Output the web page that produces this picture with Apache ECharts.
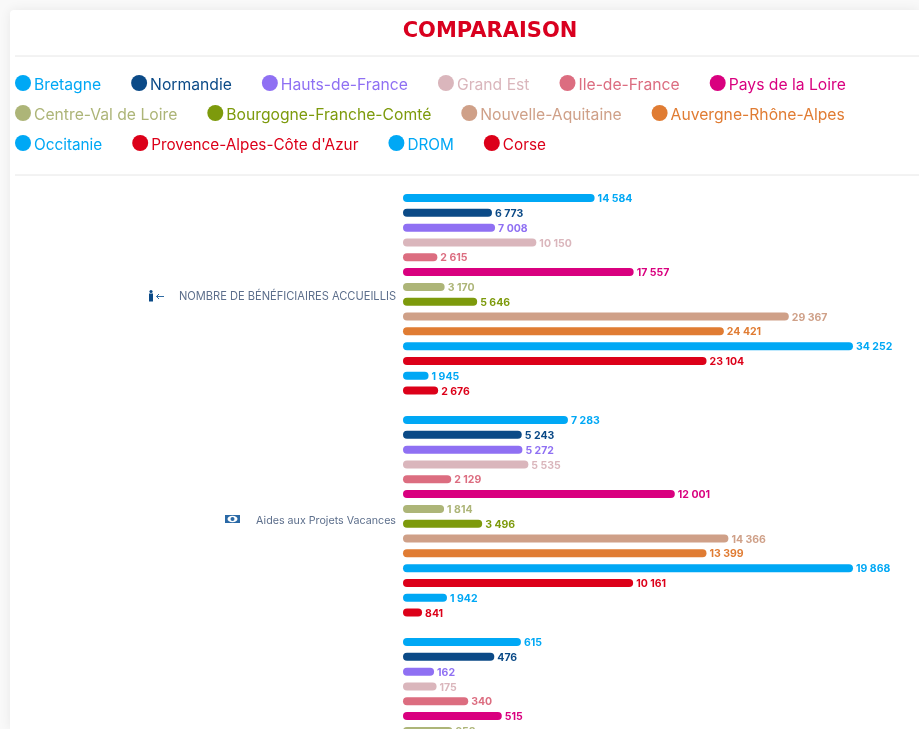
<!DOCTYPE html>
<html>
<head>
<meta charset="utf-8">
<script src="https://cdn.jsdelivr.net/npm/echarts@6/dist/echarts.min.js"></script>
<style>
html, body { margin: 0; padding: 0; background: #f9f9f9; overflow: hidden; }
.card { position: absolute; left: 10px; top: 10px; width: 909px; height: 719px; background: #fff; border-radius: 4px 0 0 0; box-shadow: 0 0 12px rgba(0,0,0,0.07); }
#chart { position: absolute; left: 0; top: 0; width: 919px; height: 860px; }
</style>
</head>
<body>
<div class="card"></div>
<div id="chart"></div>
<script>
const regions = ["Bretagne", "Normandie", "Hauts-de-France", "Grand Est", "Ile-de-France", "Pays de la Loire",
  "Centre-Val de Loire", "Bourgogne-Franche-Comté", "Nouvelle-Aquitaine", "Auvergne-Rhône-Alpes",
  "Occitanie", "Provence-Alpes-Côte d'Azur", "DROM", "Corse"];
const colors = ["#00a8f5", "#0b4a87", "#8f70f3", "#dab6bc", "#dc6d80", "#d9007f",
  "#adb578", "#7d9a0c", "#cfa088", "#e07c33",
  "#00a8f5", "#dc0019", "#00a8f5", "#dc0019"];
const legendRows = [regions.slice(0, 6), regions.slice(6, 10), regions.slice(10)];

const beneficiaires = [14584, 6773, 7008, 10150, 2615, 17557, 3170, 5646, 29367, 24421, 34252, 23104, 1945, 2676];
const aidesVacances = [7283, 5243, 5272, 5535, 2129, 12001, 1814, 3496, 14366, 13399, 19868, 10161, 1942, 841];
// third block is cut off by the screenshot, only the first rows can be read
const troisieme = [615, 476, 162, 175, 340, 515, 258];

const blocks = [
  { label: "NOMBRE DE BÉNÉFICIAIRES ACCUEILLIS", values: beneficiaires, max: 34252, top: 190.6, size: 11.1, pad: 5 },
  { label: "Aides aux Projets Vacances", values: aidesVacances, max: 19868, top: 412.6, size: 10.7, pad: 8 },
  { label: "", values: troisieme, max: 2346, top: 634.6, size: 11, pad: 0 }
];

const font = "Inter, 'Open Sans', sans-serif";
const fmt = v => String(v).replace(/\B(?=(\d{3})+$)/g, " ");

const grids = [], xAxes = [], yAxes = [], series = [];
blocks.forEach((b, g) => {
  grids.push({ left: 403, width: 450, top: b.top, height: 207.4 });
  xAxes.push({ gridIndex: g, type: "value", min: 0, max: b.max, show: false });
  yAxes.push({
    gridIndex: g, type: "category", inverse: true, data: regions,
    axisLine: { show: false }, axisTick: { show: false }, axisLabel: { show: false },
    name: b.label ? "{t|" + b.label + "}" : "", nameLocation: "middle", nameRotate: 0, nameGap: 7,
    nameTextStyle: {
      align: "right", verticalAlign: "middle",
      rich: { t: { color: "#5d6f8c", fontFamily: font, fontSize: b.size, padding: [b.pad, 0, 0, 0] } }
    }
  });
  regions.forEach((r, i) => {
    series.push({
      name: r, type: "bar", xAxisIndex: g, yAxisIndex: g,
      barWidth: 8, barGap: "-100%",
      itemStyle: { color: colors[i], borderRadius: 4 },
      label: {
        show: true, position: "right", distance: 3, offset: [0, 1], color: colors[i],
        fontFamily: font, fontSize: 10.5, fontWeight: 700,
        formatter: p => fmt(p.value)
      },
      data: regions.map((_, j) => (j === i && b.values[i] != null ? b.values[i] : null))
    });
  });
});

const legendSizes = [15.7, 15.7, 15.3];
const legends = legendRows.map((row, k) => ({
  left: 10, top: 70 + k * 30, data: row, icon: "circle",
  itemWidth: 16, itemHeight: 16, itemGap: 30,
  selectedMode: false,
  formatter: "{t|{name}}",
  textStyle: {
    color: "inherit", fontFamily: font, fontSize: legendSizes[k],
    rich: { t: { fontFamily: font, fontSize: legendSizes[k], padding: [4, 0, 0, -2] } }
  }
}));

const chart = echarts.init(document.getElementById("chart"), null, { renderer: "canvas" });
chart.setOption({
  animation: false,
  backgroundColor: "transparent",
  title: {
    text: "COMPARAISON", left: 485, top: 16, textAlign: "center",
    textStyle: { color: "#d9001f", fontFamily: "'DejaVu Sans', sans-serif", fontSize: 21, fontWeight: 700 }
  },
  legend: legends,
  grid: grids, xAxis: xAxes, yAxis: yAxes, series: series,
  graphic: [
    { type: "line", shape: { x1: 15, y1: 56, x2: 919, y2: 56 }, style: { stroke: "#e6e6e6", lineWidth: 1 } },
    { type: "line", shape: { x1: 15, y1: 175, x2: 919, y2: 175 }, style: { stroke: "#e6e6e6", lineWidth: 1 } },
    // petit bonhomme + fleche
    { type: "circle", shape: { cx: 151, cy: 291.5, r: 1.6 }, style: { fill: "#0b4a87" } },
    { type: "rect", shape: { x: 149, y: 293.5, width: 4, height: 8 }, style: { fill: "#0b4a87" } },
    { type: "polyline", shape: { points: [[164, 296.5], [156.5, 296.5]] }, style: { stroke: "#2f6ba3", lineWidth: 1, fill: null } },
    { type: "polyline", shape: { points: [[159, 294], [156.5, 296.5], [159, 299]] }, style: { stroke: "#2f6ba3", lineWidth: 1, fill: null } },
    // billet
    { type: "rect", shape: { x: 225, y: 515, width: 15, height: 8 }, style: { fill: "#2a69a6" } },
    { type: "ellipse", shape: { cx: 232.5, cy: 519, rx: 5, ry: 3.2 }, style: { fill: "#fff" } },
    { type: "circle", shape: { cx: 232.5, cy: 519, r: 2 }, style: { fill: "#2a69a6" } }
  ]
});
</script>
</body>
</html>
